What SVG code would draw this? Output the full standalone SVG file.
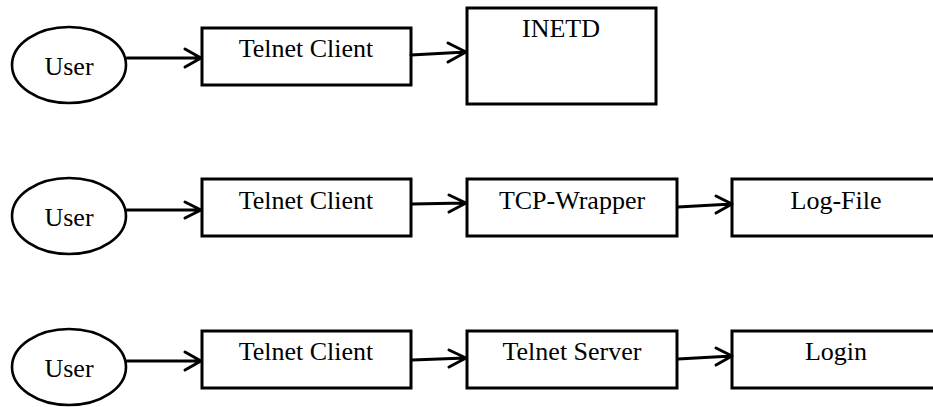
<svg xmlns="http://www.w3.org/2000/svg" width="933" height="407" viewBox="0 0 933 407">
<style>
.node{fill:#fff;stroke:#000;stroke-width:3}
.ell{fill:#fff;stroke:#000;stroke-width:2.6}
.lbl{font-family:"Liberation Serif","Times New Roman",serif;font-size:26px;fill:#000;text-anchor:middle}
.edge{fill:none;stroke:#000;stroke-width:3;stroke-linecap:round;stroke-linejoin:round}
</style>
<rect width="933" height="407" fill="#fff"/>
<g id="user1"><ellipse class="ell" cx="69" cy="65" rx="57" ry="38"/><text class="lbl" x="69" y="75">User</text></g>
<g id="client1"><rect class="node" x="202" y="28" width="209" height="57"/><text class="lbl" x="306" y="57">Telnet Client</text></g>
<g id="inetd"><rect class="node" x="467" y="8" width="189" height="96"/><text class="lbl" x="561" y="37">INETD</text></g>

<g id="user2"><ellipse class="ell" cx="69" cy="216" rx="57" ry="38"/><text class="lbl" x="69" y="226">User</text></g>
<g id="client2"><rect class="node" x="202" y="179" width="209" height="57"/><text class="lbl" x="306" y="209">Telnet Client</text></g>
<g id="wrapper"><rect class="node" x="467" y="179" width="210" height="57"/><text class="lbl" x="572" y="209">TCP-Wrapper</text></g>
<g id="logfile"><rect class="node" x="732" y="179" width="215" height="57"/><text class="lbl" x="836" y="209">Log-File</text></g>

<g id="user3"><ellipse class="ell" cx="69" cy="367" rx="57" ry="38"/><text class="lbl" x="69" y="377">User</text></g>
<g id="client3"><rect class="node" x="202" y="331" width="209" height="57"/><text class="lbl" x="306" y="360">Telnet Client</text></g>
<g id="server"><rect class="node" x="467" y="331" width="210" height="57"/><text class="lbl" x="572" y="360">Telnet Server</text></g>
<g id="login"><rect class="node" x="732" y="331" width="215" height="57"/><text class="lbl" x="836" y="360">Login</text></g>

<g id="connectors">
<path class="edge" d="M127 58 L201 58 M185 49 L201 58 L185 67"/>
<path class="edge" d="M411 55 L466 52 M448 43 L466 52 L448 62"/>
<path class="edge" d="M127 210 L201 210 M185 202 L201 210 L185 218"/>
<path class="edge" d="M412 204 L466 203 M449 195 L466 203 L449 212"/>
<path class="edge" d="M678 207 L732 204 M716 196 L732 204 L716 213"/>
<path class="edge" d="M127 361 L201 361 M185 352 L201 361 L185 370"/>
<path class="edge" d="M412 360 L466 358 M449 350 L466 358 L449 367"/>
<path class="edge" d="M678 359 L732 356 M716 348 L732 356 L716 365"/>
</g>
</svg>
